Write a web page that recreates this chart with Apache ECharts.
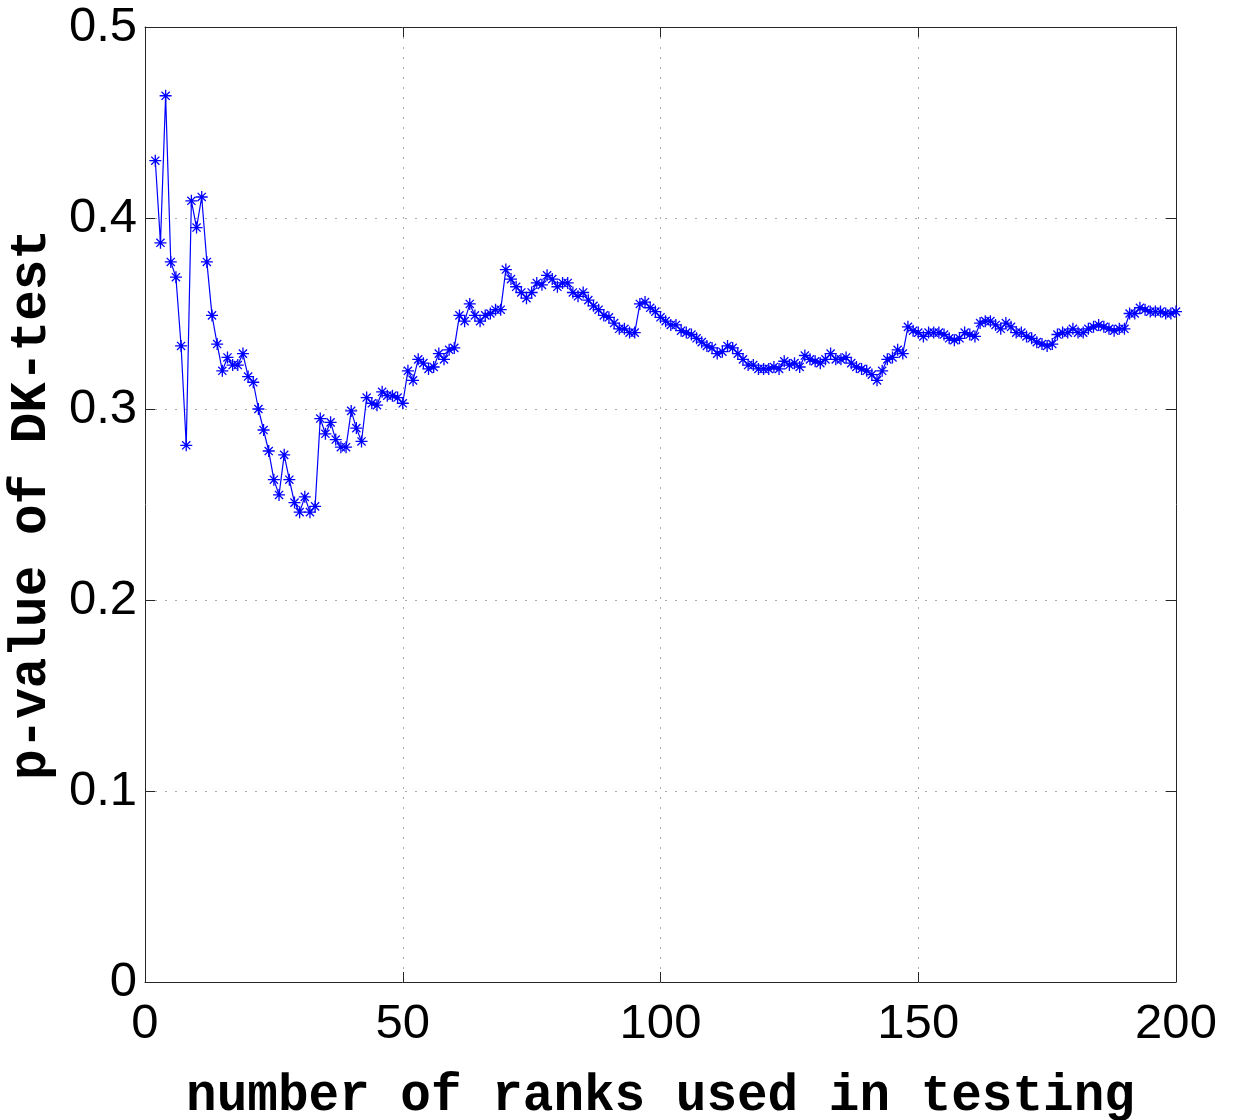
<!DOCTYPE html>
<html>
<head>
<meta charset="utf-8">
<script src="https://cdn.jsdelivr.net/npm/echarts@6/dist/echarts.min.js"></script>
<style>html,body{margin:0;padding:0;background:#fff}#main{width:1236px;height:1120px}</style>
</head>
<body>
<div id="main"></div>
<script>
const firstRank = 2;
const pValues = [
  0.430,0.387,0.464,0.377,0.369,0.333,0.281,0.409,0.395,0.411,
  0.377,0.349,0.334,0.320,0.327,0.323,0.323,0.329,0.317,0.314,
  0.300,0.289,0.278,0.263,0.255,0.276,0.263,0.251,0.246,0.254,
  0.246,0.249,0.295,0.287,0.293,0.284,0.280,0.280,0.299,0.290,
  0.283,0.306,0.303,0.302,0.309,0.307,0.307,0.306,0.303,0.320,
  0.315,0.326,0.324,0.321,0.322,0.329,0.326,0.331,0.332,0.349,
  0.346,0.355,0.349,0.346,0.349,0.350,0.352,0.352,0.373,0.368,
  0.364,0.361,0.358,0.361,0.366,0.365,0.370,0.368,0.364,0.366,
  0.366,0.361,0.359,0.361,0.357,0.354,0.352,0.349,0.348,0.345,
  0.342,0.342,0.340,0.340,0.355,0.356,0.353,0.351,0.348,0.346,
  0.344,0.344,0.341,0.340,0.339,0.337,0.335,0.333,0.332,0.329,
  0.330,0.333,0.332,0.329,0.326,0.323,0.323,0.321,0.321,0.321,
  0.322,0.321,0.325,0.323,0.324,0.322,0.328,0.326,0.325,0.324,
  0.326,0.329,0.326,0.326,0.327,0.324,0.322,0.321,0.320,0.318,
  0.315,0.320,0.326,0.327,0.331,0.329,0.343,0.341,0.340,0.338,
  0.340,0.340,0.340,0.339,0.337,0.336,0.337,0.340,0.339,0.338,
  0.345,0.346,0.346,0.344,0.342,0.345,0.343,0.340,0.340,0.338,
  0.337,0.335,0.334,0.333,0.334,0.339,0.340,0.340,0.342,0.340,
  0.340,0.342,0.343,0.344,0.343,0.342,0.341,0.342,0.342,0.350,
  0.350,0.353,0.352,0.351,0.351,0.351,0.350,0.350,0.351
];
const ranks = pValues.map((_, i) => firstRank + i);
const xTicks = [0, 50, 100, 150, 200];
const yTicks = [0, 0.1, 0.2, 0.3, 0.4, 0.5];
const xTitle = 'number of ranks used in testing';
const yTitle = 'p-value of DK-test';

const chart = echarts.init(document.getElementById('main'), null, {renderer: 'canvas'});
const axisCol = '#262626';
const tickFont = {fontFamily: 'Liberation Sans', fontSize: 49, color: '#000'};
const titleFont = {fontFamily: 'Liberation Mono', fontWeight: 'bold', fontSize: 51, color: '#000'};
const grid = {type: [2, 8], color: '#aaaaaa', width: 1};
const star = 'path://M0,5L10,5M5,0L5,10M1.6,1.6L8.4,8.4M8.4,1.6L1.6,8.4';

chart.setOption({
  animation: false,
  backgroundColor: '#fff',
  grid: {left: 145, right: 60, top: 27, bottom: 138, containLabel: false, outerBoundsMode: 'none'},
  xAxis: [{
    type: 'value', min: xTicks[0], max: xTicks[xTicks.length - 1], interval: 50,
    position: 'bottom',
    name: xTitle, nameLocation: 'middle', nameGap: 90, nameTextStyle: titleFont,
    axisLine: {show: true, onZero: false, lineStyle: {color: axisCol, width: 1}},
    axisTick: {show: true, inside: true, length: 10, lineStyle: {color: axisCol}},
    axisLabel: Object.assign({margin: 18}, tickFont),
    splitLine: {show: true, lineStyle: grid}
  }, {
    type: 'value', min: xTicks[0], max: xTicks[xTicks.length - 1], interval: 50,
    position: 'top',
    axisLine: {show: true, onZero: false, lineStyle: {color: axisCol, width: 1}},
    axisTick: {show: true, inside: true, length: 10, lineStyle: {color: axisCol}},
    axisLabel: {show: false}, splitLine: {show: false}
  }],
  yAxis: [{
    type: 'value', min: yTicks[0], max: yTicks[yTicks.length - 1], interval: 0.1,
    position: 'left',
    name: yTitle, nameLocation: 'middle', nameGap: 85, nameTextStyle: titleFont,
    axisLine: {show: true, onZero: false, lineStyle: {color: axisCol, width: 1}},
    axisTick: {show: true, inside: true, length: 10, lineStyle: {color: axisCol}},
    axisLabel: Object.assign({margin: 8}, tickFont),
    splitLine: {show: true, lineStyle: grid}
  }, {
    type: 'value', min: yTicks[0], max: yTicks[yTicks.length - 1], interval: 0.1,
    position: 'right',
    axisLine: {show: true, onZero: false, lineStyle: {color: axisCol, width: 1}},
    axisTick: {show: true, inside: true, length: 10, lineStyle: {color: axisCol}},
    axisLabel: {show: false}, splitLine: {show: false}
  }],
  series: [{
    type: 'line',
    xAxisIndex: 0, yAxisIndex: 0,
    data: ranks.map((r, i) => [r, pValues[i]]),
    lineStyle: {color: '#0000ff', width: 1.2},
    symbol: star,
    symbolSize: 12,
    showAllSymbol: true,
    itemStyle: {color: '#0000ff', borderColor: '#0000ff', borderWidth: 1.3}
  }]
});
</script>
</body>
</html>
